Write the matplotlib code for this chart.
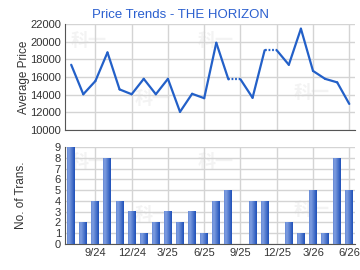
import numpy as np
import matplotlib
matplotlib.use("Agg")
import matplotlib.pyplot as plt

plt.rcParams['font.family'] = ['Liberation Sans', 'DejaVu Sans']

# monthly data, Jul 2024 .. Jun 2026
months = ['7/24', '8/24', '9/24', '10/24', '11/24', '12/24', '1/25', '2/25', '3/25',
          '4/25', '5/25', '6/25', '7/25', '8/25', '9/25', '10/25', '11/25', '12/25',
          '1/26', '2/26', '3/26', '4/26', '5/26', '6/26']
avg_price = [17400, 14050, 15550, 18800, 14600, 14050, 15800, 14050, 15800,
             12050, 14100, 13600, 19900, 15750, None, 13650, 19050, None,
             17400, 21500, 16700, 15800, 15400, 12950]
transactions = [9, 2, 4, 8, 4, 3, 1, 2, 3, 2, 3, 1, 4, 5, 0, 4, 4, 0, 2, 1, 5, 1, 8, 5]
tick_labels = ['9/24', '12/24', '3/25', '6/25', '9/25', '12/25', '3/26', '6/26']

x = np.arange(len(months))
tick_pos = [months.index(m) for m in tick_labels]

# carry last price forward over months with no sales (drawn dotted)
filled = []
last = None
for v in avg_price:
    last = v if v is not None else last
    filled.append(last)

line_col = '#2360c8'
grid_col = '#d4d4d4'
text_col = '#333333'

fig = plt.figure(figsize=(3.6, 2.7), dpi=100)
ax1 = fig.add_axes([0.181, 0.519, 0.806, 0.391])
ax2 = fig.add_axes([0.181, 0.0974, 0.806, 0.357])

# watermark
for ax in (ax1, ax2):
    for (wx, wy) in [(0.08, 0.85), (0.52, 0.85), (0.85, 0.35), (0.3, 0.3)]:
        ax.text(wx, wy, '科一', transform=ax.transAxes, fontsize=13, color='#f3f3f3',
                family=['Noto Sans CJK SC'], ha='center', va='center', zorder=0,
                fontweight='bold')

# price line
for i in range(len(x) - 1):
    style = (0, (0.8, 0.8)) if avg_price[i + 1] is None else '-'
    ax1.plot(x[i:i + 2], filled[i:i + 2], color=line_col, lw=1.6, ls=style,
             solid_capstyle='round', zorder=3)

ax1.set_xlim(-0.5, 23.5)
ax1.set_ylim(10000, 22000)
ax1.set_yticks(np.arange(10000, 22001, 2000))
ax1.set_xticks(tick_pos)
ax1.set_xticklabels([])
ax1.set_ylabel('Average Price', fontsize=8.5, color=text_col, labelpad=0)
fig.text(0.5, 0.945, 'Price Trends - THE HORIZON', fontsize=9.5, color='#2a5fcf',
         ha='center', va='center')

# transaction bars with a shaded cylinder look
bar_w = 0.66
ax2.bar(x, transactions, width=bar_w, color='#3f6fd0', zorder=2)
grad = np.array([[0.55, 0.72, 0.62, 0.48, 0.35, 0.2, 0.05]])
cmap = matplotlib.colors.LinearSegmentedColormap.from_list('b', ['#1d4fb8', '#a6bef0'])
for xi, h in zip(x, transactions):
    if h > 0:
        ax2.imshow(grad, cmap=cmap, vmin=0, vmax=1, aspect='auto', interpolation='bicubic',
                   extent=(xi - bar_w / 2, xi + bar_w / 2, 0, h), zorder=3)

ax2.set_xlim(-0.5, 23.5)
ax2.set_ylim(0, 9)
ax2.set_yticks(range(0, 10))
ax2.set_xticks(tick_pos)
ax2.set_xticklabels(tick_labels)
ax2.set_ylabel('No. of Trans.', fontsize=8.5, color=text_col, labelpad=20)

for ax in (ax1, ax2):
    ax.grid(True, color=grid_col, lw=1)
    ax.set_axisbelow(True)
    for s in ('top', 'right'):
        ax.spines[s].set_visible(False)
    ax.spines['left'].set_color('#555555')
    ax.spines['bottom'].set_color('#555555')
    ax.tick_params(length=0, labelsize=8, colors=text_col, pad=3)

fig.savefig('out.png', dpi=100)
